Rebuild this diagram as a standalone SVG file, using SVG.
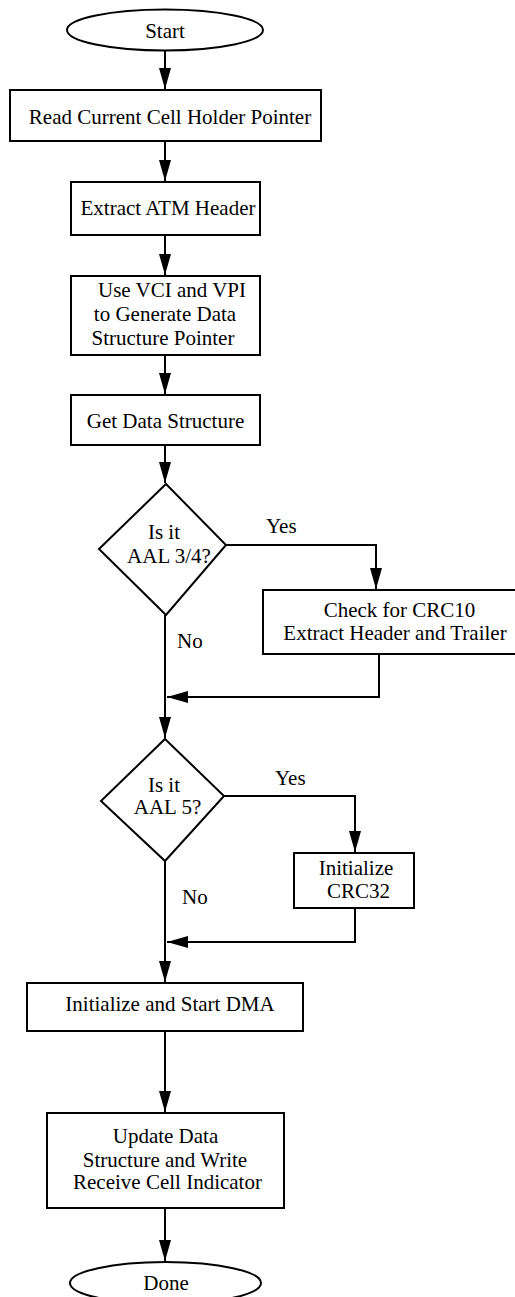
<svg xmlns="http://www.w3.org/2000/svg" width="515" height="1297" viewBox="0 0 515 1297">
<style>
.s{fill:#fff;stroke:#000;stroke-width:2}
.c{fill:none;stroke:#000;stroke-width:2}
text{font-family:"Liberation Serif","Times New Roman",serif;font-size:21px;fill:#000;text-anchor:middle}
.l{text-anchor:start}
</style>
<defs>
<marker id="a" markerUnits="userSpaceOnUse" markerWidth="21" markerHeight="12" viewBox="0 0 21 12" refX="21" refY="6" orient="auto">
<path d="M0,0 L21,6 L0,12 Z" fill="#000"/>
</marker>
</defs>
<g id="connectors">
<path class="c" d="M165,50 V89" marker-end="url(#a)"/>
<path class="c" d="M165,141 V181" marker-end="url(#a)"/>
<path class="c" d="M165,235 V275" marker-end="url(#a)"/>
<path class="c" d="M165,355 V394" marker-end="url(#a)"/>
<path class="c" d="M165,445 V483" marker-end="url(#a)"/>
<path class="c" d="M226,545 H376 V589" marker-end="url(#a)"/>
<path class="c" d="M165,615 V738" marker-end="url(#a)"/>
<path class="c" d="M379,654 V697 H167" marker-end="url(#a)"/>
<path class="c" d="M224,796 H355 V852" marker-end="url(#a)"/>
<path class="c" d="M165,861 V982" marker-end="url(#a)"/>
<path class="c" d="M355,908 V942 H167" marker-end="url(#a)"/>
<path class="c" d="M165,1031 V1112" marker-end="url(#a)"/>
<path class="c" d="M165,1208 V1261" marker-end="url(#a)"/>
<text class="l" x="266" y="533">Yes</text>
<text class="l" x="177" y="648">No</text>
<text class="l" x="275" y="785">Yes</text>
<text class="l" x="182" y="904">No</text>
</g>
<g id="start">
<ellipse class="s" cx="165" cy="30" rx="98" ry="20.5"/>
<text x="165" y="38">Start</text>
</g>
<g id="read">
<rect class="s" x="10" y="90" width="311" height="51"/>
<text x="170" y="124">Read Current Cell Holder Pointer</text>
</g>
<g id="extract">
<rect class="s" x="71" y="182" width="189" height="53"/>
<text x="168" y="215">Extract ATM Header</text>
</g>
<g id="usevci">
<rect class="s" x="71" y="276" width="189" height="79"/>
<text x="172" y="297">Use VCI and VPI</text>
<text x="165" y="321">to Generate Data</text>
<text x="163" y="345">Structure Pointer</text>
</g>
<g id="getds">
<rect class="s" x="71" y="395" width="189" height="50"/>
<text x="165.5" y="428">Get Data Structure</text>
</g>
<g id="aal34">
<polygon class="s" points="166,484 226,545 166,615 99,549"/>
<text x="164" y="539">Is it</text>
<text x="169" y="563">AAL 3/4?</text>
</g>
<g id="crc10">
<rect class="s" x="263" y="590" width="254" height="64"/>
<text x="399.5" y="617">Check for CRC10</text>
<text x="395" y="640">Extract Header and Trailer</text>
</g>
<g id="aal5">
<polygon class="s" points="165,739 224,796 165,861 101,801"/>
<text x="164" y="792">Is it</text>
<text x="167.5" y="814">AAL 5?</text>
</g>
<g id="crc32">
<rect class="s" x="294" y="853" width="120" height="55"/>
<text x="356" y="875">Initialize</text>
<text x="358.5" y="898">CRC32</text>
</g>
<g id="dma">
<rect class="s" x="27" y="983" width="276" height="48"/>
<text x="170" y="1011">Initialize and Start DMA</text>
</g>
<g id="update">
<rect class="s" x="47" y="1113" width="237" height="95"/>
<text x="165.5" y="1143">Update Data</text>
<text x="165" y="1167">Structure and Write</text>
<text x="167.5" y="1189">Receive Cell Indicator</text>
</g>
<g id="done">
<ellipse class="s" cx="165.5" cy="1283" rx="95.5" ry="21"/>
<text x="166" y="1290">Done</text>
</g>
</svg>
